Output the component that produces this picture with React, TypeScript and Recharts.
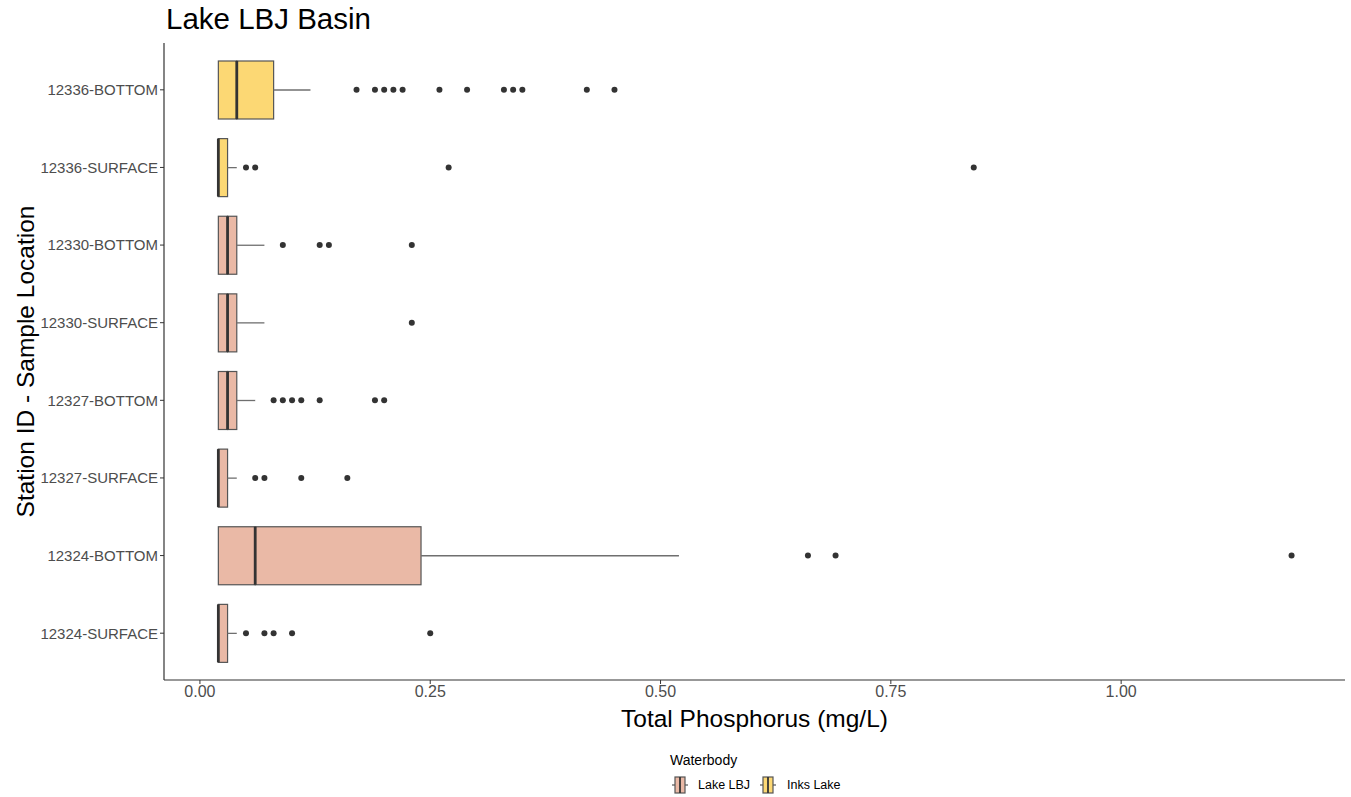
import { ComposedChart, Bar, Scatter, XAxis, YAxis } from 'recharts';

const stations = [
  '12336-BOTTOM',
  '12336-SURFACE',
  '12330-BOTTOM',
  '12330-SURFACE',
  '12327-BOTTOM',
  '12327-SURFACE',
  '12324-BOTTOM',
  '12324-SURFACE',
];
const waterbodies = ['Inks Lake', 'Inks Lake', 'Lake LBJ', 'Lake LBJ', 'Lake LBJ', 'Lake LBJ', 'Lake LBJ', 'Lake LBJ'];
const whiskerLow = [0.02, 0.02, 0.02, 0.02, 0.02, 0.02, 0.02, 0.02];
const q1 = [0.02, 0.02, 0.02, 0.02, 0.02, 0.02, 0.02, 0.02];
const medians = [0.04, 0.02, 0.03, 0.03, 0.03, 0.02, 0.06, 0.02];
const q3 = [0.08, 0.03, 0.04, 0.04, 0.04, 0.03, 0.24, 0.03];
const whiskerHigh = [0.12, 0.04, 0.07, 0.07, 0.06, 0.04, 0.52, 0.04];
const outliers: number[][] = [
  [0.17, 0.19, 0.2, 0.21, 0.22, 0.26, 0.29, 0.33, 0.34, 0.35, 0.42, 0.45],
  [0.05, 0.06, 0.27, 0.84],
  [0.09, 0.13, 0.14, 0.23],
  [0.23],
  [0.08, 0.09, 0.1, 0.11, 0.13, 0.19, 0.2],
  [0.06, 0.07, 0.11, 0.16],
  [0.66, 0.69, 1.185],
  [0.05, 0.07, 0.08, 0.1, 0.25],
];
const xTicks = [0, 0.25, 0.5, 0.75, 1.0];
const legendNames = ['Lake LBJ', 'Inks Lake'];
const fills: Record<string, string> = { 'Lake LBJ': '#EAB9A6', 'Inks Lake': '#FCD874' };

const FONT = '"Liberation Sans", Arial, Helvetica, sans-serif';

const boxData = stations.map((station, i) => ({
  station,
  waterbody: waterbodies[i],
  base: whiskerLow[i],
  lowWhisk: q1[i] - whiskerLow[i],
  lowBox: medians[i] - q1[i],
  highBox: q3[i] - medians[i],
  highWhisk: whiskerHigh[i] - q3[i],
}));

const outlierData = outliers.flatMap((vals, i) => vals.map((value) => ({ station: stations[i], value })));

const WhiskerShape = (props: any) => {
  const { x, y, width, height } = props;
  const cy = y + height / 2;
  return <line x1={x} x2={x + width} y1={cy} y2={cy} stroke="#6f6f6f" strokeWidth={1.3} />;
};

const LowBoxShape = (props: any) => {
  const { x, y, width, height, payload } = props;
  if (!width) return <g />;
  return <rect x={x} y={y} width={width} height={height} fill={fills[payload.waterbody]} stroke="#555" strokeWidth={1.2} />;
};

const HighBoxShape = (props: any) => {
  const { x, y, width, height, payload } = props;
  return (
    <g>
      <rect x={x} y={y} width={width} height={height} fill={fills[payload.waterbody]} stroke="#555" strokeWidth={1.2} />
      <line x1={x} x2={x} y1={y} y2={y + height} stroke="#333" strokeWidth={2.8} />
    </g>
  );
};

const Dot = (props: any) => <circle cx={props.cx} cy={props.cy} r={3} fill="#333" />;

const LegendKey = ({ x, fill }: { x: number; fill: string }) => (
  <g>
    <line x1={x} x2={x + 16} y1={785} y2={785} stroke="#555" strokeWidth={1.2} />
    <rect x={x + 3} y={777} width={10} height={16} fill={fill} stroke="#555" strokeWidth={1.2} />
    <line x1={x + 8} x2={x + 8} y1={777} y2={793} stroke="#333" strokeWidth={1.8} />
  </g>
);

export default function App() {
  return (
    <div style={{ position: 'absolute', left: 0, top: 0, width: 1351, height: 797, background: '#fff', fontFamily: FONT }}>
      <ComposedChart
        width={1351}
        height={797}
        data={boxData}
        layout="vertical"
        margin={{ top: 43, right: 6, bottom: 60, left: 0 }}
      >
        <XAxis
          type="number"
          domain={[-0.039, 1.243]}
          allowDataOverflow
          ticks={xTicks}
          tickFormatter={(v: number) => v.toFixed(2)}
          tickSize={4}
          tickMargin={2}
          height={57}
          axisLine={{ stroke: '#333', strokeWidth: 1.2 }}
          tickLine={{ stroke: '#333' }}
          tick={{ fontSize: 16, fill: '#4d4d4d', fontFamily: FONT }}
          label={{
            value: 'Total Phosphorus (mg/L)',
            position: 'insideBottom',
            offset: 10,
            style: { fontSize: 24.5, fill: '#000', fontFamily: FONT },
          }}
        />
        <YAxis
          type="category"
          dataKey="station"
          allowDuplicatedCategory={false}
          width={164}
          padding={{ top: 8, bottom: 8 }}
          tickSize={4}
          tickMargin={2}
          axisLine={{ stroke: '#333', strokeWidth: 1.2 }}
          tickLine={{ stroke: '#333' }}
          tick={{ fontSize: 15, fill: '#4d4d4d', fontFamily: FONT }}
          label={{
            content: (p: any) => {
              const vb = p.viewBox || { y: 43, height: 637 };
              const cy = vb.y + vb.height / 2;
              return (
                <text
                  x={34}
                  y={cy}
                  transform={`rotate(-90, 34, ${cy})`}
                  textAnchor="middle"
                  fontSize={24.5}
                  fill="#000"
                  fontFamily={FONT}
                >
                  Station ID - Sample Location
                </text>
              );
            },
          }}
        />
        <Bar dataKey="base" stackId="box" barSize={58} shape={() => <g />} isAnimationActive={false} />
        <Bar dataKey="lowWhisk" stackId="box" barSize={58} shape={WhiskerShape} isAnimationActive={false} />
        <Bar dataKey="lowBox" stackId="box" barSize={58} shape={LowBoxShape} isAnimationActive={false} />
        <Bar dataKey="highBox" stackId="box" barSize={58} shape={HighBoxShape} isAnimationActive={false} />
        <Bar dataKey="highWhisk" stackId="box" barSize={58} shape={WhiskerShape} isAnimationActive={false} />
        <Scatter data={outlierData} dataKey="value" shape={Dot} isAnimationActive={false} />
      </ComposedChart>
      <svg width={1351} height={797} style={{ position: 'absolute', left: 0, top: 0, pointerEvents: 'none' }}>
        <text x={166} y={29} fontSize={29.5} fill="#000" fontFamily={FONT}>
          Lake LBJ Basin
        </text>
        <text x={670} y={765} fontSize={14} fill="#000" fontFamily={FONT}>
          Waterbody
        </text>
        <LegendKey x={672} fill={fills[legendNames[0]]} />
        <text x={698} y={789} fontSize={12.5} fill="#000" fontFamily={FONT}>
          {legendNames[0]}
        </text>
        <LegendKey x={760} fill={fills[legendNames[1]]} />
        <text x={787} y={789} fontSize={12.5} fill="#000" fontFamily={FONT}>
          {legendNames[1]}
        </text>
      </svg>
    </div>
  );
}
